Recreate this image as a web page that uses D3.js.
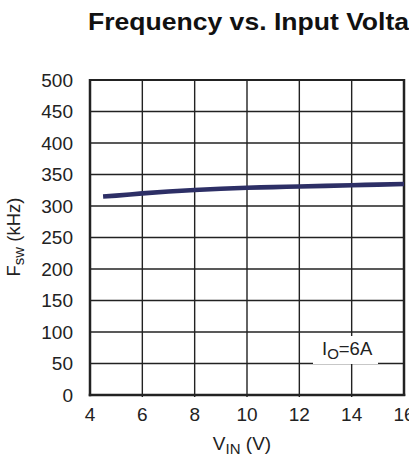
<!DOCTYPE html>
<html><head><meta charset="utf-8">
<script src="https://cdn.jsdelivr.net/npm/d3@7"></script>
<style>body{margin:0;background:#fff;} svg{display:block;}</style>
</head><body>
<svg id="c" width="409" height="457"></svg>
<script>
const vin = [4.5, 5, 6, 7, 8, 9, 10, 11, 12, 13, 14, 15, 16];
const fsw = [315, 316.5, 320, 323, 325.5, 327.5, 329, 330, 331, 332, 333, 334, 335];
const xTicks = [4, 6, 8, 10, 12, 14, 16];
const yTicks = [0, 50, 100, 150, 200, 250, 300, 350, 400, 450, 500];
const title = "Frequency vs. Input Voltage";
const legendText = ["I", "O", "=6A"];

const svg = d3.select("#c");
const L = 90, R = 404, T = 80, B = 395;
const x = d3.scaleLinear().domain([4, 16]).range([L, R]);
const y = d3.scaleLinear().domain([0, 500]).range([B, T]);
const font = "Liberation Sans, Arial, Helvetica, sans-serif";

svg.append("text").attr("transform", "translate(88,30) scale(1.155,1)")
  .attr("font-family", font).attr("font-weight", "bold").attr("font-size", 23)
  .attr("fill", "#111").text(title);

// grid
const g = svg.append("g");
g.selectAll(".hy").data(yTicks.slice(1, -1)).join("line")
  .attr("x1", L).attr("x2", R).attr("y1", d => y(d)).attr("y2", d => y(d))
  .attr("stroke", "#222").attr("stroke-width", 1.4);
g.selectAll(".vx").data(xTicks.slice(1, -1)).join("line")
  .attr("y1", T).attr("y2", B + 2).attr("x1", d => x(d)).attr("x2", d => x(d))
  .attr("stroke", "#222").attr("stroke-width", 1.4);

// legend box
const lg = svg.append("g");
lg.append("rect").attr("x", 313).attr("y", 336).attr("width", 65).attr("height", 28).attr("fill", "#fff");
const lt = lg.append("text").attr("x", 322).attr("y", 355)
  .attr("font-family", font).attr("font-size", 18.5).attr("fill", "#222");
lt.append("tspan").text(legendText[0]);
lt.append("tspan").attr("font-size", 15).attr("dy", 4).text(legendText[1]);
lt.append("tspan").attr("dy", -4).text(legendText[2]);

// frame
svg.append("line").attr("x1", L).attr("x2", R).attr("y1", T).attr("y2", T).attr("stroke", "#222").attr("stroke-width", 2);
svg.append("line").attr("x1", R).attr("x2", R).attr("y1", T - 1).attr("y2", B + 1).attr("stroke", "#222").attr("stroke-width", 2.5);
svg.append("line").attr("x1", L).attr("x2", L).attr("y1", T - 1).attr("y2", B + 1.25).attr("stroke", "#222").attr("stroke-width", 2.5);
svg.append("line").attr("x1", L - 1.25).attr("x2", R + 1.25).attr("y1", B).attr("y2", B).attr("stroke", "#222").attr("stroke-width", 2.5);

// data line
const line = d3.line().x((d, i) => x(vin[i])).y(d => y(d)).curve(d3.curveMonotoneX);
svg.append("path").attr("d", line(fsw)).attr("fill", "none")
  .attr("stroke", "#2d2f66").attr("stroke-width", 4.6);

// y tick labels
svg.selectAll(".yl").data(yTicks).join("text")
  .attr("x", 73).attr("y", d => y(d)).attr("dy", "0.35em").attr("text-anchor", "end")
  .attr("font-family", font).attr("font-size", 19).attr("fill", "#222").text(d => d);
// x tick labels
svg.selectAll(".xl").data(xTicks).join("text")
  .attr("x", d => x(d)).attr("y", 421).attr("text-anchor", "middle")
  .attr("font-family", font).attr("font-size", 19).attr("fill", "#222").text(d => d);

// x label
const xl = svg.append("text").attr("x", 242).attr("y", 450).attr("text-anchor", "middle")
  .attr("font-family", font).attr("font-size", 19).attr("fill", "#222");
xl.append("tspan").text("V");
xl.append("tspan").attr("font-size", 15).attr("dy", 4).text("IN");
xl.append("tspan").attr("dy", -4).text(" (V)");

// y label
const yl = svg.append("text").attr("transform", "translate(20,237) rotate(-90)").attr("text-anchor", "middle")
  .attr("font-family", font).attr("font-size", 18.5).attr("fill", "#222");
yl.append("tspan").text("F");
yl.append("tspan").attr("font-size", 15).attr("dy", 4).text("sw");
yl.append("tspan").attr("dy", -4).text(" (kHz)");
</script>
</body></html>
